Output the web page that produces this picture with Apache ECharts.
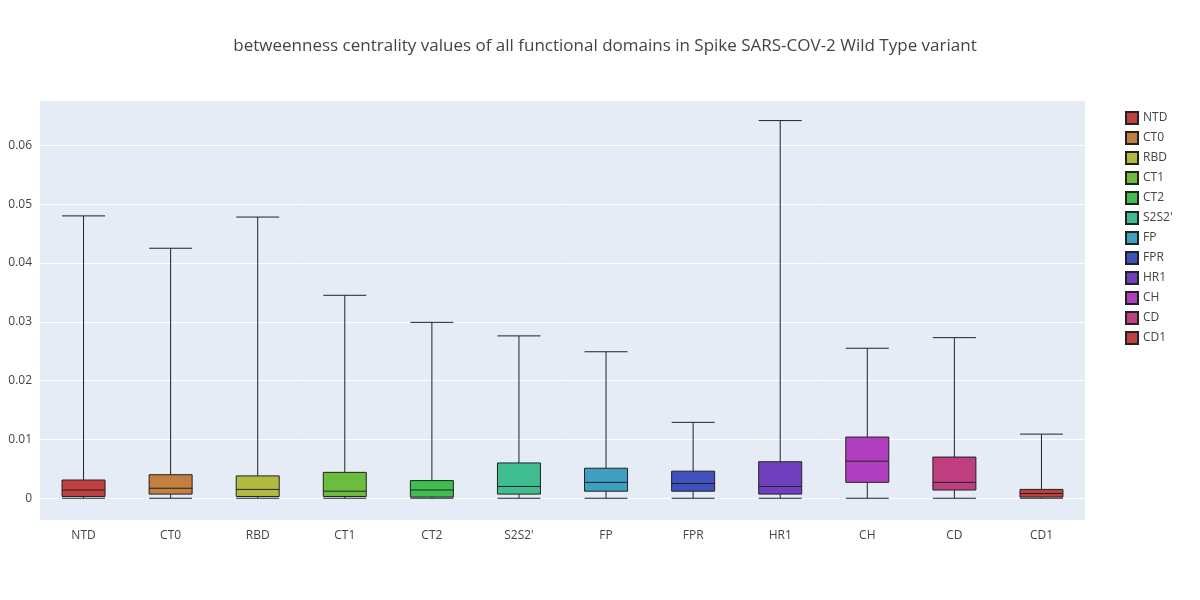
<!DOCTYPE html>
<html><head><meta charset="utf-8">
<script src="https://cdn.jsdelivr.net/npm/echarts@6/dist/echarts.min.js"></script>
<style>html,body{margin:0;padding:0;background:#fff}#c{width:1200px;height:600px}</style>
</head><body><div id="c"></div>
<script>
const categories = ["NTD","CT0","RBD","CT1","CT2","S2S2'","FP","FPR","HR1","CH","CD","CD1"];
const mins    = [0,0,0,0,0,0,0,0,0,0,0,0];
const q1s     = [0.0003,0.0007,0.0003,0.0003,0.0002,0.0007,0.0012,0.0012,0.0007,0.0027,0.0014,0.0002];
const medians = [0.0014,0.0017,0.0015,0.0012,0.0014,0.0020,0.0027,0.0025,0.0020,0.0063,0.0027,0.0008];
const q3s     = [0.0031,0.0040,0.0038,0.0044,0.0030,0.0060,0.0051,0.0046,0.0062,0.0104,0.0070,0.0015];
const maxs    = [0.0480,0.0425,0.0478,0.0345,0.0299,0.0276,0.0249,0.0129,0.0642,0.0255,0.0273,0.0109];
const colors  = ["#c0403f","#c27f3f","#b3ba40","#6cbd3f","#3fbd4f","#3fbd8f","#3f9fbf","#3f51bd","#6f3fbd","#b03fbf","#bf3f80","#c0403f"];

const boxData = categories.map((c,i)=>({value:[mins[i],q1s[i],medians[i],q3s[i],maxs[i]],itemStyle:{color:colors[i],borderColor:'#222',borderWidth:1}}));
const legendSeries = categories.map((c,i)=>({name:c,type:'bar',data:[],itemStyle:{color:colors[i],borderColor:'#222',borderWidth:1}}));

const chart = echarts.init(document.getElementById('c'));
chart.setOption({
  animation:false,
  backgroundColor:'#fff',
  title:{text:'betweenness centrality values of all functional domains in Spike SARS-COV-2 Wild Type variant',left:600,top:33,textAlign:'center',textStyle:{fontFamily:'Open Sans',fontWeight:'normal',fontSize:17,color:'#444'}},
  legend:{orient:'vertical',left:1120,top:106,icon:'rect',itemWidth:12,itemHeight:12,itemGap:6,data:categories,textStyle:{fontFamily:'Open Sans',fontSize:12,color:'#444'}},
  grid:{left:40,right:115,top:100,bottom:80,show:true,backgroundColor:'#e5ecf6',borderWidth:0},
  xAxis:{type:'category',data:categories,axisLine:{show:false},axisTick:{show:false},splitLine:{show:false},
    axisLabel:{fontFamily:'Open Sans',fontSize:12,color:'#444',margin:10}},
  yAxis:{type:'value',min:-0.0037,max:0.0677,splitNumber:7,
    axisLine:{show:false},axisTick:{show:false},
    splitLine:{lineStyle:{color:'#fff',width:1}},
    axisLabel:{showMinLabel:false,showMaxLabel:false,fontFamily:'Open Sans',fontSize:12,color:'#444',
      formatter:v=>{const r=Math.round(v*100)/100; if(Math.abs(v-r)>1e-6) return ''; return r===0?'0':String(r);}}},
  series:[{type:'boxplot',name:'box',data:boxData,boxWidth:[43,43]}].concat(legendSeries)
});
</script></body></html>
